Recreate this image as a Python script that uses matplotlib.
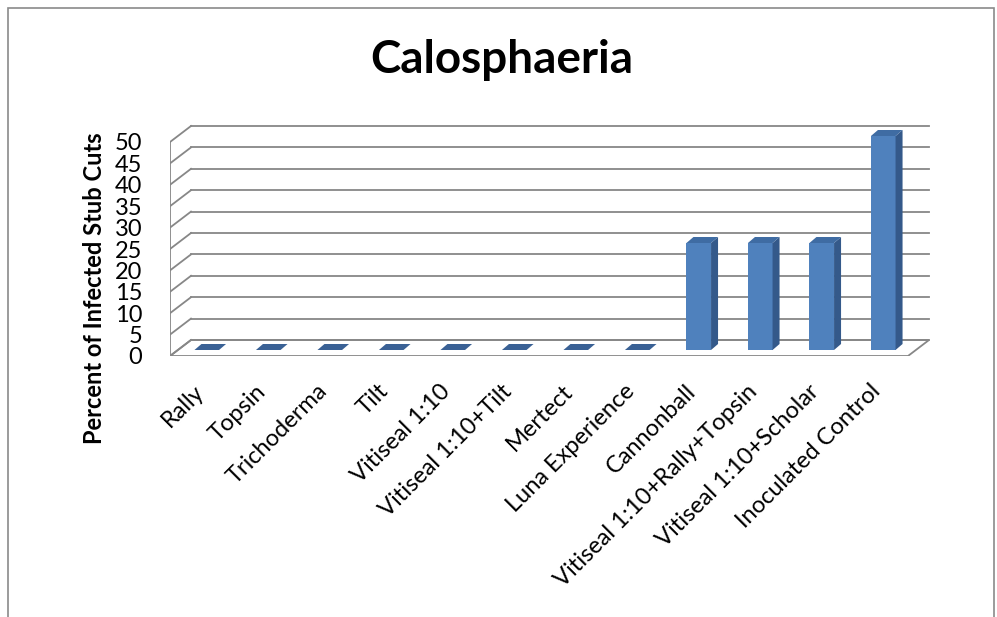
import matplotlib
matplotlib.use("Agg")
import matplotlib.pyplot as plt
from matplotlib.patches import Polygon, Rectangle
import numpy as np

plt.rcParams['font.family'] = ['Lato', 'DejaVu Sans']

categories = ['Rally', 'Topsin', 'Trichoderma', 'Tilt', 'Vitiseal 1:10',
              'Vitiseal 1:10+Tilt', 'Mertect', 'Luna Experience', 'Cannonball',
              'Vitiseal 1:10+Rally+Topsin', 'Vitiseal 1:10+Scholar',
              'Inoculated Control']
infected = [0, 0, 0, 0, 0, 0, 0, 0, 25, 25, 25, 50]
yticks = [0, 5, 10, 15, 20, 25, 30, 35, 40, 45, 50]

W, H = 997, 617
fig = plt.figure(figsize=(W / 100, H / 100), dpi=100)

# axes placed in pixels: front floor edge 170..(x=11.5 -> 908), y=0 at 356px
px_x = 61.5
px_y = 4.28
x0, x1 = -0.5, 12.0
y0, y1 = 0, 55
left = 170
bottom = H - 356
ax = fig.add_axes([left / W, bottom / H, (x1 - x0) * px_x / W, (y1 - y0) * px_y / H])
ax.set_xlim(x0, x1)
ax.set_ylim(y0, y1)
for s in ax.spines.values():
    s.set_visible(False)

# depth offsets (data units)
wdx, wdy = 21 / px_x, 16 / px_y     # wall depth
bfx, bfy = 6 / px_x, 6 / px_y       # bar front offset from floor front
bdx, bdy = 7 / px_x, 6 / px_y       # bar depth
bw = 0.4
grid_c = '#878787'

# floor
xl, xr = -0.5, 11.5
ax.add_patch(Polygon([(xl, 0), (xr, 0), (xr + wdx, wdy), (xl + wdx, wdy)],
                     closed=True, fc='white', ec=grid_c, lw=1.3, zorder=1))
# back wall + left wall gridlines
for v in yticks:
    ax.plot([xl + wdx, xr + wdx], [v + wdy, v + wdy], color=grid_c, lw=1.3, zorder=2)
    ax.plot([xl, xl + wdx], [v, v + wdy], color=grid_c, lw=1.3, zorder=2)
ax.plot([xl, xl], [0, yticks[-1]], color=grid_c, lw=1.3, zorder=2)

# bars
front_c, side_c, top_c = '#4F81BD', '#34598A', '#3F6CA3'
for i, v in enumerate(infected):
    xa = i - bw / 2 + bfx
    xb = i + bw / 2 + bfx
    yb = bfy
    yt = bfy + v
    if v > 0:
        ax.add_patch(Rectangle((xa, yb), bw, v, fc=front_c, ec='none', zorder=3))
        ax.add_patch(Polygon([(xb, yb), (xb + bdx, yb + bdy), (xb + bdx, yt + bdy), (xb, yt)],
                             closed=True, fc=side_c, ec='none', zorder=3))
    ax.add_patch(Polygon([(xa, yt), (xb, yt), (xb + bdx, yt + bdy), (xa + bdx, yt + bdy)],
                         closed=True, fc=top_c if v > 0 else '#3A6195', ec='none', zorder=3))

ax.set_yticks(yticks)
ax.set_yticklabels([str(t) for t in yticks], fontsize=17)
ax.tick_params(axis='y', length=0, pad=20)
ax.set_xticks(range(len(categories)))
ax.set_xticklabels(categories, fontsize=17, rotation=45, ha='right', va='center',
                   rotation_mode='anchor')
ax.tick_params(axis='x', length=0, pad=23)

fig.text(95 / W, 1 - 288 / H, 'Percent of Infected Stub Cuts', rotation=90,
         ha='center', va='center', fontsize=17, fontweight='bold')
fig.text(502 / W, 1 - 60 / H, 'Calosphaeria', ha='center', va='center',
         fontsize=33, fontweight='bold')

# chart border
fig.add_artist(Rectangle((8 / W, -0.05), 986 / W, 1 - 8 / H + 0.05,
                         transform=fig.transFigure, fill=False, ec='#8a8a8a', lw=1.2))

fig.savefig('out.png', dpi=100)
